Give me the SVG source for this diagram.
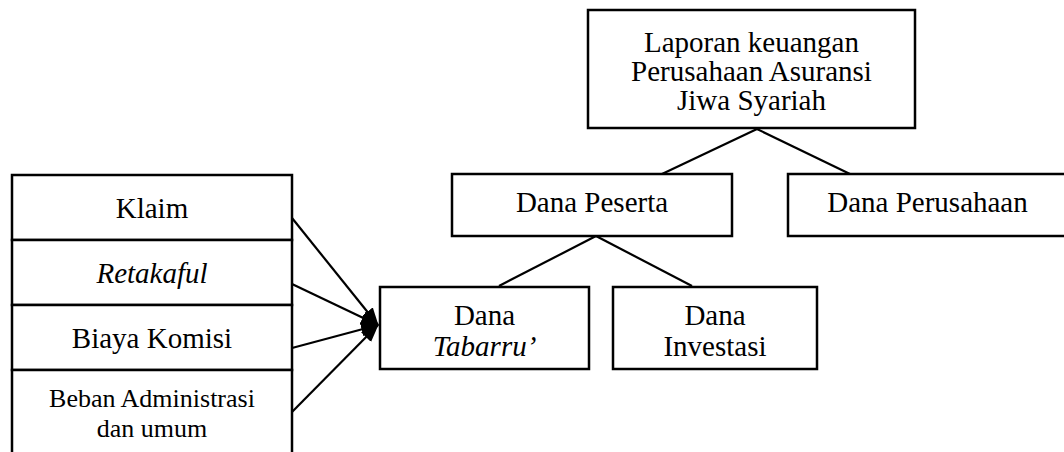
<svg xmlns="http://www.w3.org/2000/svg" width="1064" height="452" viewBox="0 0 1064 452">
<defs>
<style>
.box{fill:#fff;stroke:#000;stroke-width:2.5}
.ln{stroke:#000;stroke-width:2.2;fill:none}
.t{font-family:"Liberation Serif","Times New Roman",serif;font-size:29px;fill:#000;text-anchor:middle}
.s{font-size:26px}
.i{font-style:italic}
</style>
<marker id="ah" viewBox="0 0 18 14" refX="17" refY="7" markerWidth="18" markerHeight="14" markerUnits="userSpaceOnUse" orient="auto">
<path d="M0,0 L18,7 L0,14 Z" fill="#000"/>
</marker>
</defs>
<rect width="1064" height="452" fill="#fff"/>
<g id="connectors">
<line class="ln" x1="757" y1="129" x2="662" y2="174"/>
<line class="ln" x1="757" y1="129" x2="850" y2="174"/>
<line class="ln" x1="596" y1="236" x2="499" y2="286"/>
<line class="ln" x1="596" y1="236" x2="692" y2="286"/>
<line class="ln" x1="292" y1="218" x2="378" y2="325" marker-end="url(#ah)"/>
<line class="ln" x1="292" y1="284" x2="378" y2="325" marker-end="url(#ah)"/>
<line class="ln" x1="292" y1="348" x2="378" y2="325" marker-end="url(#ah)"/>
<line class="ln" x1="292" y1="412" x2="378" y2="325" marker-end="url(#ah)"/>
</g>
<g id="laporan">
<rect class="box" x="588" y="10" width="327" height="118"/>
<text class="t" x="751.5" y="51.5">Laporan keuangan</text>
<text class="t" x="751.5" y="81">Perusahaan Asuransi</text>
<text class="t" x="751.5" y="110">Jiwa Syariah</text>
</g>
<g id="dana-peserta">
<rect class="box" x="452" y="174" width="280" height="62"/>
<text class="t" x="592" y="212">Dana Peserta</text>
</g>
<g id="dana-perusahaan">
<rect class="box" x="788" y="174" width="290" height="62"/>
<text class="t" x="927.5" y="212">Dana Perusahaan</text>
</g>
<g id="dana-tabarru">
<rect class="box" x="380" y="287" width="209" height="82"/>
<text class="t" x="484.5" y="325">Dana</text>
<text class="t i" x="484.5" y="356">Tabarru’</text>
</g>
<g id="dana-investasi">
<rect class="box" x="613" y="287" width="204" height="82"/>
<text class="t" x="715" y="325">Dana</text>
<text class="t" x="715" y="356">Investasi</text>
</g>
<g id="klaim">
<rect class="box" x="12" y="175" width="280" height="65"/>
<text class="t" x="152" y="218">Klaim</text>
</g>
<g id="retakaful">
<rect class="box" x="12" y="240" width="280" height="65"/>
<text class="t i" x="152" y="283">Retakaful</text>
</g>
<g id="biaya-komisi">
<rect class="box" x="12" y="305" width="280" height="65"/>
<text class="t" x="152" y="348">Biaya Komisi</text>
</g>
<g id="beban-administrasi">
<rect class="box" x="12" y="370" width="280" height="95"/>
<text class="t s" x="152" y="407">Beban Administrasi</text>
<text class="t s" x="152" y="437">dan umum</text>
</g>
</svg>
